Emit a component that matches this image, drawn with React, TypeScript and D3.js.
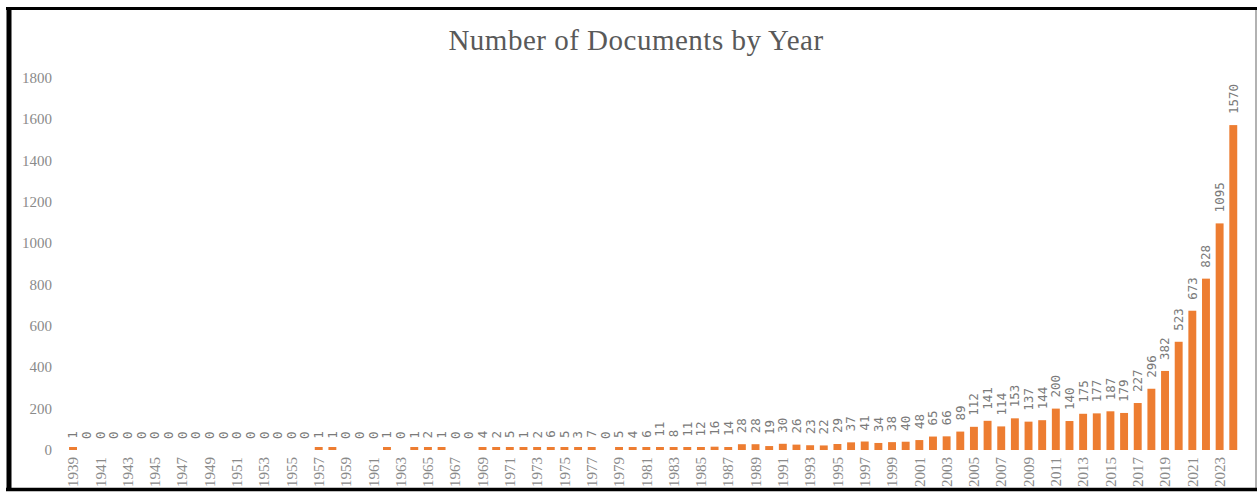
import React from "react";
import * as d3 from "d3";

const years: number[] = d3.range(1939, 2025);
const counts: number[] = [
  1, 0, 0, 0, 0, 0, 0, 0, 0, 0, 0, 0, 0, 0, 0, 0, 0, 0, 1, 1,
  0, 0, 0, 1, 0, 1, 2, 1, 0, 0, 4, 2, 5, 1, 2, 6, 5, 3, 7, 0,
  5, 4, 6, 11, 8, 11, 12, 16, 14, 28, 28, 19, 30, 26, 23, 22, 29, 37, 41, 34,
  38, 40, 48, 65, 66, 89, 112, 141, 114, 153, 137, 144, 200, 140, 175, 177, 187, 179, 227, 296,
  382, 523, 673, 828, 1095, 1570,
];
const yTicks: number[] = [0, 200, 400, 600, 800, 1000, 1200, 1400, 1600, 1800];
const title = "Number of Documents by Year";

export default function App() {
  const W = 1257;
  const H = 493;
  const x = d3
    .scaleBand<number>()
    .domain(years)
    .range([66.2, 1240.1])
    .paddingInner(0.42)
    .paddingOuter(0.21);
  const y = d3.scaleLinear().domain([0, 1800]).range([450, 77.5]);
  const orange = "#ED7D31";
  const tickColor = "#8a8a8a";
  const labelColor = "#7a7a7a";

  return (
    <svg
      width={W}
      height={H}
      style={{ position: "absolute", left: 0, top: 0, background: "#fff" }}
    >
      <rect x={0} y={0} width={W} height={H} fill="#fff" />
      <text
        x={636}
        y={50}
        textAnchor="middle"
        fontFamily="'Liberation Serif', 'Times New Roman', serif"
        fontSize={29}
        letterSpacing={0.5}
        fill="#595959"
      >
        {title}
      </text>
      {yTicks.map((t) => (
        <text
          key={"yt" + t}
          x={52}
          y={y(t)}
          dy="0.35em"
          textAnchor="end"
          fontFamily="'Liberation Serif', serif"
          fontSize={15}
          fill={tickColor}
        >
          {t}
        </text>
      ))}
      {years.map((yr, i) => {
        const v = counts[i];
        const cx = (x(yr) as number) + x.bandwidth() / 2;
        const top = y(v);
        const h = v > 0 ? Math.max(y(0) - top, 3) : 0;
        return (
          <g key={"b" + yr}>
            {h > 0 && (
              <rect
                x={x(yr) as number}
                y={y(0) - h}
                width={x.bandwidth()}
                height={h}
                fill={orange}
              />
            )}
            <text
              transform={`translate(${cx},${top - 11}) rotate(-90)`}
              dy="0.35em"
              textAnchor="start"
              fontFamily="'DejaVu Sans Mono', monospace"
              fontSize={12.5}
              fill={labelColor}
            >
              {v}
            </text>
            {i % 2 === 0 && (
              <text
                transform={`translate(${cx},457) rotate(-90)`}
                dy="0.35em"
                textAnchor="end"
                fontFamily="'Liberation Serif', serif"
                fontSize={15}
                fill={tickColor}
              >
                {yr}
              </text>
            )}
          </g>
        );
      })}
      {/* frame */}
      <line x1={1256} y1={8} x2={1256} y2={490} stroke="#999" strokeWidth={1.5} />
      <line x1={6} y1={8.5} x2={1257} y2={8.5} stroke="#000" strokeWidth={3} />
      <line x1={6} y1={489.5} x2={1257} y2={489.5} stroke="#000" strokeWidth={3.5} />
      <line x1={9} y1={7} x2={9} y2={491} stroke="#000" strokeWidth={5} />
    </svg>
  );
}
